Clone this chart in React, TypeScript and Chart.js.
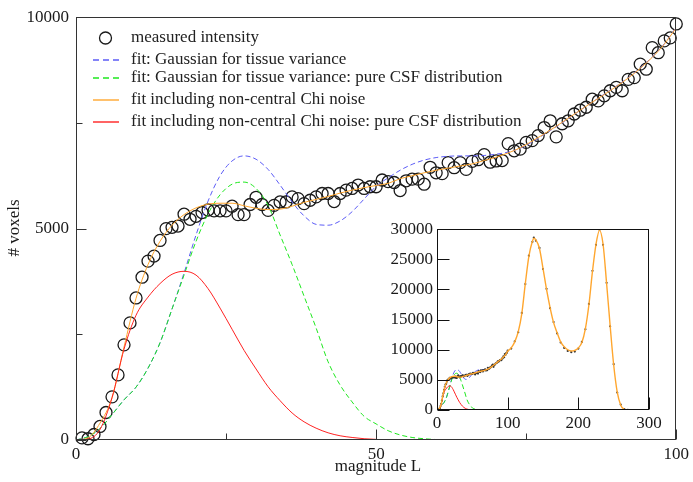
import React, { useEffect, useRef } from "react";
import { Chart, registerables } from "chart.js";
Chart.register(...registerables);

// ---------- data ----------
const measuredL = [
  1, 2, 3, 4, 5, 6, 7, 8, 9, 10, 11, 12, 13, 14, 15, 16, 17, 18, 19, 20,
  21, 22, 23, 24, 25, 26, 27, 28, 29, 30, 31, 32, 33, 34, 35, 36, 37, 38, 39, 40,
  41, 42, 43, 44, 45, 46, 47, 48, 49, 50, 51, 52, 53, 54, 55, 56, 57, 58, 59, 60,
  61, 62, 63, 64, 65, 66, 67, 68, 69, 70, 71, 72, 73, 74, 75, 76, 77, 78, 79, 80,
  81, 82, 83, 84, 85, 86, 87, 88, 89, 90, 91, 92, 93, 94, 95, 96, 97, 98, 99, 100,
];
const measuredVoxels = [
  50, 30, 130, 320, 650, 1020, 1540, 2250, 2770, 3360,
  3850, 4230, 4350, 4720, 5000, 5030, 5060, 5340, 5220, 5290,
  5380, 5440, 5420, 5420, 5420, 5530, 5330, 5330, 5570, 5740,
  5570, 5430, 5550, 5630, 5630, 5750, 5710, 5590, 5670, 5750,
  5830, 5830, 5640, 5830, 5910, 5950, 6030, 5950, 5990, 5990,
  6150, 6110, 6090, 5900, 6130, 6170, 6170, 6050, 6450, 6320,
  6300, 6560, 6440, 6560, 6400, 6590, 6630, 6750, 6570, 6600,
  6610, 7010, 6840, 6880, 7040, 7080, 7200, 7390, 7550, 7170,
  7480, 7550, 7710, 7800, 7870, 8060, 8020, 8140, 8260, 8340,
  8260, 8530, 8570, 8890, 8770, 9280, 9160, 9440, 9510, 9840,
];

const fitL = [
  0, 2, 4, 6, 8, 10, 12, 14, 16, 18, 20, 22, 24, 26, 28, 30, 32, 34, 36, 38, 40,
  42, 44, 46, 48, 50, 52, 54, 56, 58, 60, 62, 64, 66, 68, 70, 72, 74, 76, 78, 80,
  82, 84, 86, 88, 90, 92, 94, 96, 98, 100,
];
const gaussFit = [
  0, 80, 270, 600, 950, 1250, 1700, 2300, 3100, 3950, 4850, 5650, 6250, 6600, 6720, 6640, 6400, 6030, 5630, 5300, 5100,
  5080, 5180, 5400, 5700, 6000, 6200, 6380, 6520, 6620, 6680, 6710, 6720, 6720, 6730, 6760, 6810, 6900, 7050, 7230, 7410,
  7600, 7800, 7990, 8180, 8370, 8570, 8800, 9060, 9370, 9760,
];
const gaussCSF = [
  0, 80, 270, 600, 950, 1250, 1700, 2300, 3100, 3900, 4700, 5350, 5800, 6050, 6100, 5950, 5550, 4850, 4150, 3400, 2650,
  1850, 1300, 900, 560, 380, 220, 120, 60, 30, 10,
];
const chiFit = [
  0, 50, 400, 1000, 2200, 3350, 4150, 4700, 5080, 5330, 5490, 5580, 5600, 5600, 5540, 5480, 5450, 5460, 5530, 5620, 5690,
  5760, 5840, 5910, 5970, 6020, 6070, 6180, 6250, 6320, 6380, 6430, 6480, 6530, 6610, 6690, 6790, 6910, 7070, 7240, 7420,
  7610, 7800, 7990, 8170, 8360, 8560, 8790, 9050, 9360, 9750,
];
const chiCSF = [
  0, 20, 250, 1000, 2150, 2950, 3380, 3700, 3920, 3990, 3900, 3580, 3120, 2620, 2120, 1680, 1260, 930, 640, 430, 280,
  170, 100, 60, 30, 15,
];

// inset continuation beyond L = 100
const insetL = [
  105, 110, 115, 120, 125, 130, 135, 137, 140, 145, 150, 155, 160, 165, 170, 175, 180, 185, 190, 195,
  200, 205, 210, 215, 220, 225, 230, 235, 240, 245, 250, 255, 260, 265, 270,
];
const insetFit = [
  10300, 11300, 13000, 16000, 21000, 25500, 28000, 28500, 28200, 26800, 23500, 20000, 17000, 14500, 12800, 11300, 10500, 10000, 9800, 9900,
  10300, 11200, 13500, 17500, 23000, 27500, 29800, 27500, 21000, 14000, 7500, 3000, 800, 100, 0,
];
const insetMeasured = [
  10200, 11400, 12900, 16100, 20900, 25600, 27900, 28600, 28100, 26900, 23400, 20100, 16900, 14600, 12700, 11200, 10300, 9800, 9600, 9700,
  10200, 11300, 13400, 17600, 23100, 27400, 29900, 27400, 21100, 13900, 7600, 2900, 900, 150, 20,
];

const legendLabels = [
  "measured intensity",
  "fit: Gaussian for tissue variance",
  "fit: Gaussian for tissue variance: pure CSF distribution",
  "fit including non-central Chi noise",
  "fit including non-central Chi noise: pure CSF distribution",
];

const mainXMajor = [0, 50, 100];
const mainXMinor = [25, 75];
const mainYMajor = [0, 5000, 10000];
const mainYMinor = [2500, 7500];
const insetXMajor = [0, 100, 200, 300];
const insetYMajor = [0, 5000, 10000, 15000, 20000, 25000, 30000];

// ---------- styles ----------
const BLUE = "#5c5cf6";
const GREEN = "#1fe81f";
const ORANGE = "#ffa62e";
const RED = "#ff2222";
const INK = "#1a1a1a";
const FONT = "'Liberation Serif', 'DejaVu Serif', serif";

const zip = (xs: number[], ys: number[]) => ys.map((y, i) => ({ x: xs[i], y }));

const lineDs = (label: string, data: any[], color: string, dashed: boolean, width = 1) => ({
  label,
  data,
  showLine: true,
  borderColor: color,
  backgroundColor: color,
  borderWidth: width,
  borderDash: dashed ? [5, 3] : [],
  pointRadius: 0,
  cubicInterpolationMode: "monotone" as const,
  fill: false,
});

const framePlugin = (cfg: {
  xMajor: number[]; xMinor: number[]; yMajor: number[]; yMinor: number[];
  major: number; minor: number; color: string;
}) => ({
  id: "frameTicks",
  afterDraw(chart: any) {
    const { ctx, chartArea: a, scales } = chart;
    ctx.save();
    ctx.strokeStyle = cfg.color;
    ctx.lineWidth = 1;
    ctx.setLineDash([]);
    const L = Math.round(a.left) + 0.5, R = Math.round(a.right) - 0.5;
    const T = Math.round(a.top) + 0.5, B = Math.round(a.bottom) - 0.5;
    ctx.strokeRect(L, T, R - L, B - T);
    ctx.beginPath();
    const xt = (v: number, len: number) => {
      const x = Math.round(scales.x.getPixelForValue(v)) + 0.5;
      ctx.moveTo(x, B); ctx.lineTo(x, B - len);
    };
    const yt = (v: number, len: number) => {
      const y = Math.round(scales.y.getPixelForValue(v)) + 0.5;
      ctx.moveTo(L, y); ctx.lineTo(L + len, y);
    };
    cfg.xMajor.forEach((v) => xt(v, cfg.major));
    cfg.xMinor.forEach((v) => xt(v, cfg.minor));
    cfg.yMajor.forEach((v) => yt(v, cfg.major));
    cfg.yMinor.forEach((v) => yt(v, cfg.minor));
    ctx.stroke();
    ctx.restore();
  },
});

const legendStyles = [
  { kind: "circle", color: INK, dash: [] as number[] },
  { kind: "line", color: BLUE, dash: [6, 4] },
  { kind: "line", color: GREEN, dash: [6, 4] },
  { kind: "line", color: ORANGE, dash: [] as number[] },
  { kind: "line", color: RED, dash: [] as number[] },
];

const mainDecor = {
  id: "mainDecor",
  afterDraw(chart: any) {
    const { ctx } = chart;
    ctx.save();
    ctx.fillStyle = INK;
    ctx.font = `17px ${FONT}`;
    ctx.textBaseline = "middle";
    // axis titles
    ctx.textAlign = "center";
    ctx.fillText("magnitude L", 378, 467);
    ctx.save();
    ctx.translate(15, 228);
    ctx.rotate(-Math.PI / 2);
    ctx.fillText("# voxels", 0, 0);
    ctx.restore();
    // legend
    const rows = [38, 60, 78, 100, 122];
    ctx.textAlign = "left";
    legendLabels.forEach((t, i) => {
      const y = rows[i];
      const s = legendStyles[i];
      ctx.save();
      ctx.strokeStyle = s.color;
      if (s.kind === "circle") {
        ctx.lineWidth = 1.3;
        ctx.beginPath();
        ctx.arc(105.5, y, 6, 0, Math.PI * 2);
        ctx.stroke();
      } else {
        ctx.lineWidth = 1.4;
        ctx.setLineDash(s.dash);
        ctx.beginPath();
        ctx.moveTo(93, y);
        ctx.lineTo(119, y);
        ctx.stroke();
      }
      ctx.restore();
      ctx.fillStyle = "#222";
      ctx.fillText(t, 131, y);
    });
    ctx.restore();
  },
};

const tickFont = { family: FONT, size: 17 };

export default function App() {
  const mainRef = useRef<HTMLCanvasElement>(null);
  const insetRef = useRef<HTMLCanvasElement>(null);

  useEffect(() => {
    const main = new Chart(mainRef.current!, {
      type: "scatter",
      data: {
        datasets: [
          lineDs("fit including non-central Chi noise: pure CSF distribution", zip(fitL, chiCSF), RED, false),
          lineDs("fit including non-central Chi noise", zip(fitL, chiFit), ORANGE, false),
          lineDs("fit: Gaussian for tissue variance: pure CSF distribution", zip(fitL, gaussCSF), GREEN, true),
          lineDs("fit: Gaussian for tissue variance", zip(fitL, gaussFit), BLUE, true),
          {
            label: "measured intensity",
            data: zip(measuredL, measuredVoxels),
            showLine: false,
            pointStyle: "circle",
            pointRadius: 6,
            pointBorderWidth: 1.3,
            borderColor: INK,
            backgroundColor: "rgba(0,0,0,0)",
            clip: false as any,
          },
        ],
      },
      options: {
        animation: false,
        responsive: false,
        events: [],
        layout: { padding: { top: 15, right: 13, left: 0, bottom: 0 } },
        plugins: { legend: { display: false }, tooltip: { enabled: false } },
        scales: {
          x: {
            type: "linear",
            min: 0, max: 100,
            grid: { display: false, drawTicks: false },
            border: { display: false },
            ticks: { stepSize: 50, padding: 4, color: INK, font: tickFont, maxRotation: 0, callback: (v: any) => String(v) },
            afterFit: (s: any) => { s.height = 42; },
          },
          y: {
            type: "linear",
            min: 0, max: 10000,
            grid: { display: false, drawTicks: false },
            border: { display: false },
            ticks: { stepSize: 5000, padding: 7, color: INK, font: tickFont, callback: (v: any) => String(v) },
            afterFit: (s: any) => { s.width = 76; },
          },
        },
      } as any,
      plugins: [
        framePlugin({ xMajor: mainXMajor, xMinor: mainXMinor, yMajor: mainYMajor, yMinor: mainYMinor, major: 10, minor: 6, color: "#333" }),
        mainDecor,
      ],
    });

    const inset = new Chart(insetRef.current!, {
      type: "scatter",
      data: {
        datasets: [
          lineDs("chi", zip(fitL.concat(insetL), chiFit.concat(insetFit)), ORANGE, false, 1.4),
          {
            label: "measured intensity",
            data: zip(measuredL.concat(insetL), measuredVoxels.concat(insetMeasured)),
            showLine: false,
            pointRadius: 1.1,
            pointBorderWidth: 0,
            backgroundColor: "#333",
            borderColor: "#333",
          },
          lineDs("chi csf", zip(fitL, chiCSF), RED, false),
          lineDs("gauss csf", zip(fitL, gaussCSF), GREEN, true),
          lineDs("gauss", zip(fitL, gaussFit), BLUE, true),
        ],
      },
      options: {
        animation: false,
        responsive: false,
        events: [],
        layout: { padding: { top: 14, right: 36, left: 0, bottom: 0 } },
        plugins: { legend: { display: false }, tooltip: { enabled: false } },
        scales: {
          x: {
            type: "linear",
            min: 0, max: 300,
            grid: { display: false, drawTicks: false },
            border: { display: false },
            ticks: { stepSize: 100, padding: 3, color: INK, font: tickFont, maxRotation: 0, callback: (v: any) => String(v) },
            afterFit: (s: any) => { s.height = 20; },
          },
          y: {
            type: "linear",
            min: 0, max: 30000,
            grid: { display: false, drawTicks: false },
            border: { display: false },
            ticks: { stepSize: 5000, padding: 4, color: INK, font: tickFont, callback: (v: any) => String(v) },
            afterFit: (s: any) => { s.width = 97; },
          },
        },
      } as any,
      plugins: [
        framePlugin({ xMajor: insetXMajor, xMinor: [], yMajor: insetYMajor, yMinor: [], major: 12, minor: 0, color: "#111" }),
      ],
    });

    return () => {
      main.destroy();
      inset.destroy();
    };
  }, []);

  return (
    <div style={{ position: "fixed", left: 0, top: 0, width: 693, height: 482, background: "#fff" }}>
      <canvas ref={mainRef} width={693} height={482} style={{ position: "absolute", left: 0, top: 0, width: 693, height: 482 }} />
      <canvas ref={insetRef} width={345} height={215} style={{ position: "absolute", left: 340, top: 215, width: 345, height: 215 }} />
    </div>
  );
}
